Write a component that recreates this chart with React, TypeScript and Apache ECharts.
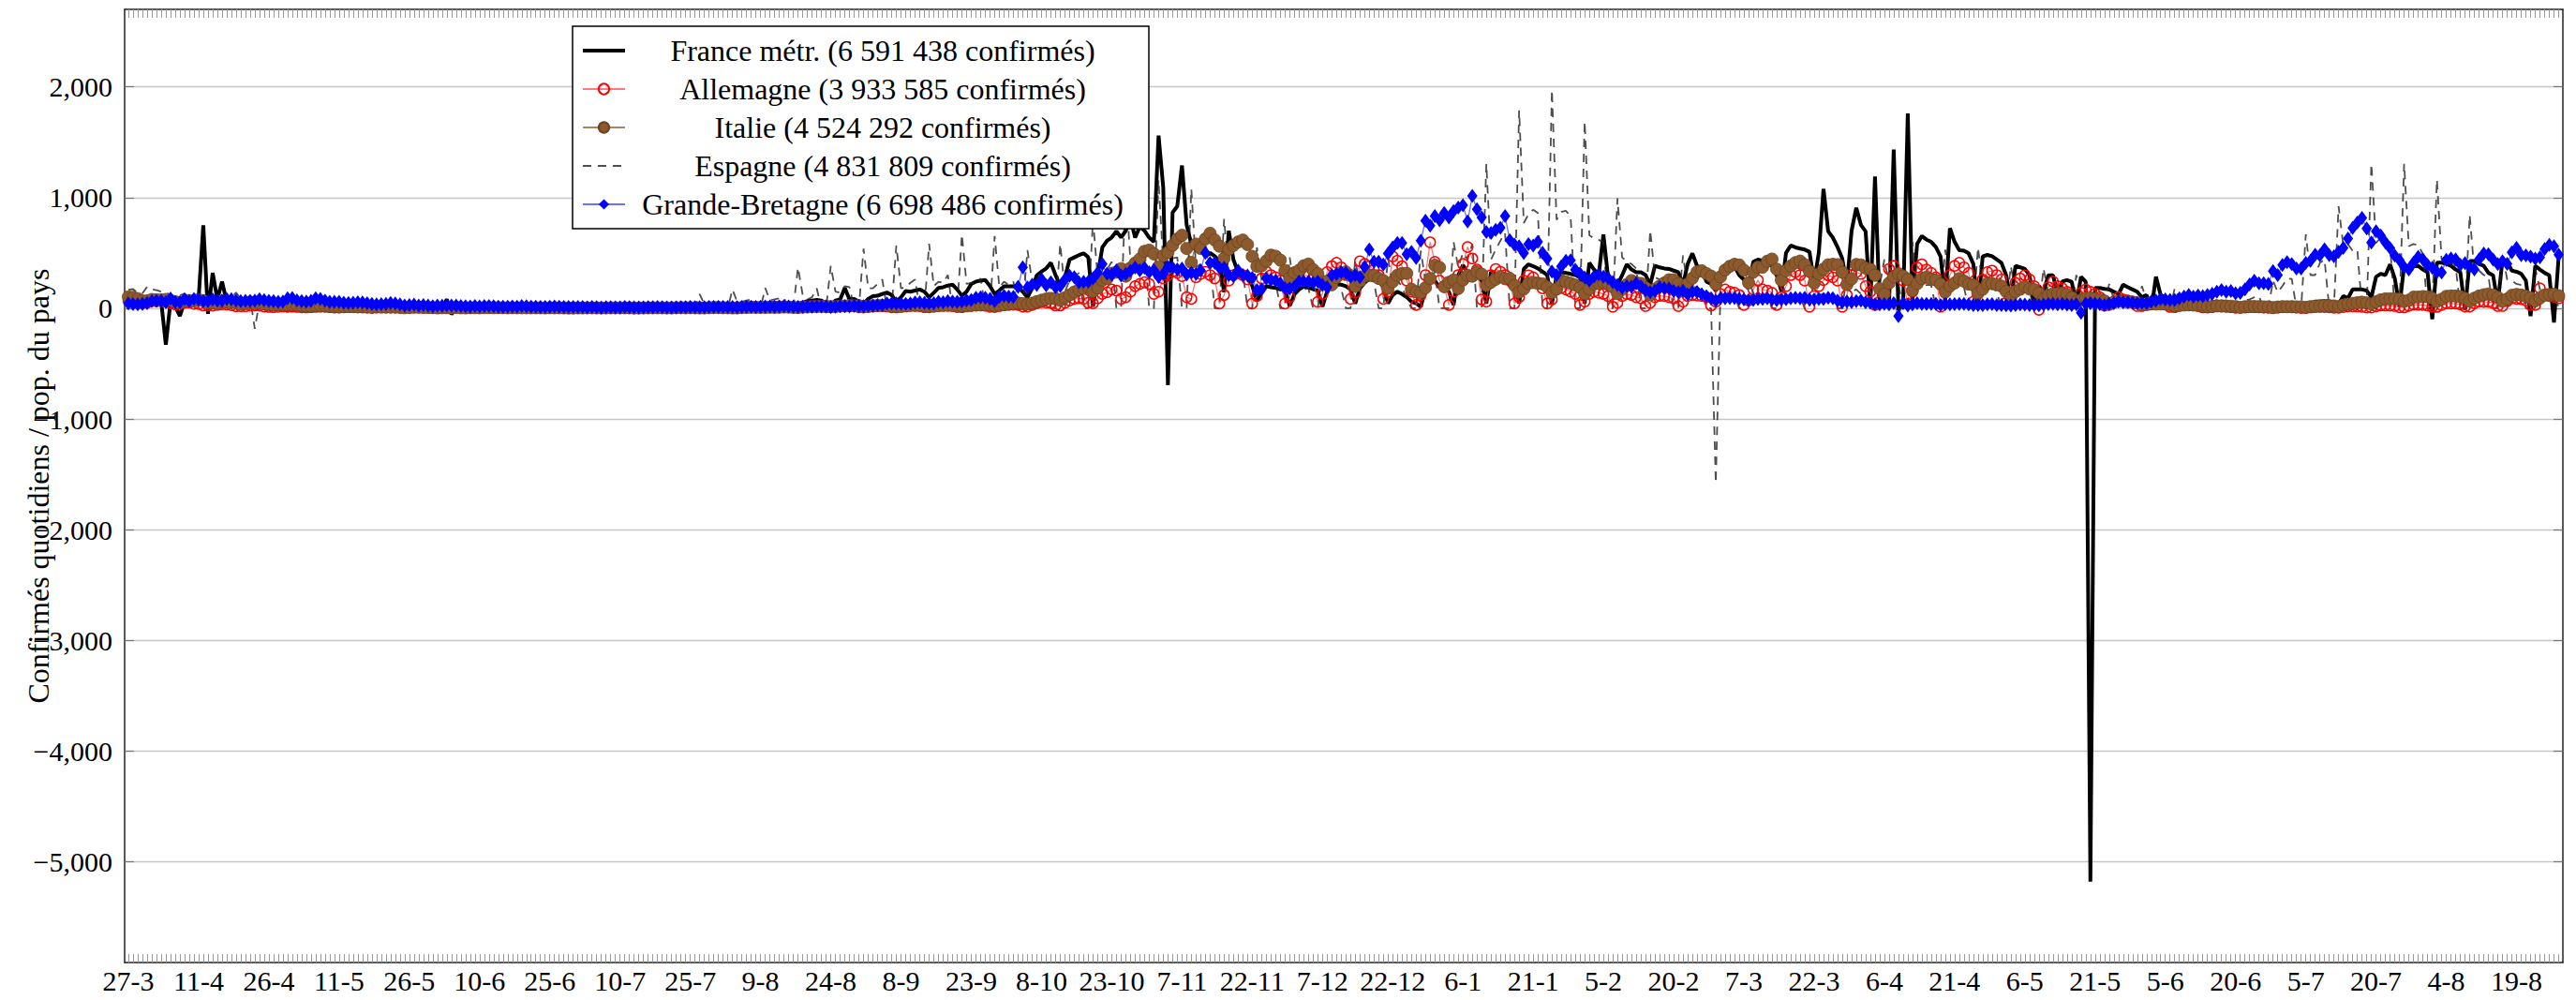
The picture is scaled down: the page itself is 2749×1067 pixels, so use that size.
import React, { useEffect, useRef } from "react";
import * as echarts from "echarts";

const W = 2749;
const H = 1067;

// x tick positions (day index, day 0 = 27 March 2020) and labels
const xTickDays = [0, 15, 30, 45, 60, 75, 90, 105, 120, 135, 150, 165, 180, 195, 210, 225, 240, 255, 270, 285, 300, 315, 330, 345, 360, 375, 390, 405, 420, 435, 450, 465, 480, 495, 510];
const xTickLabels = ["27-3", "11-4", "26-4", "11-5", "26-5", "10-6", "25-6", "10-7", "25-7", "9-8", "24-8", "8-9", "23-9", "8-10", "23-10", "7-11", "22-11", "7-12", "22-12", "6-1", "21-1", "5-2", "20-2", "7-3", "22-3", "6-4", "21-4", "6-5", "21-5", "5-6", "20-6", "5-7", "20-7", "4-8", "19-8"];
const yTicks = [-5000, -4000, -3000, -2000, -1000, 0, 1000, 2000];

const seriesNames = [
  "France métr. (6 591 438 confirmés)",
  "Allemagne (3 933 585 confirmés)",
  "Italie (4 524 292 confirmés)",
  "Espagne (4 831 809 confirmés)",
  "Grande-Bretagne (6 698 486 confirmés)",
];

// daily confirmed per million, from 27-3-2020 (Fri) to 28-8-2021
const france = [
  60, 55, 40,
  70, 75, 110, 80, 65, -330, 60,
  20, -70, 60, 50, 60, 90, 750,
  -50, 320, 80, 240, 60, 80, 40,
  50, 30, 35, 25, 20, 25, 15,
  20, 15, 20, -28, 18, 15, 12,
  10, 12, 15, 14, 10, 8, 6,
  5, 8, 10, 9, 8, 7, 5,
  4, 6, 8, 7, 6, 5, 4,
  3, 5, 6, 6, 5, 4, 3,
  4, 5, 80, -55, 8, 6, 4,
  3, 6, 8, 7, 7, 5, 4,
  3, 6, 7, 8, 7, 6, 4,
  4, 7, 9, 8, 8, 7, 5,
  4, 8, 10, 9, 10, 8, 6,
  5, 9, 11, 10, 11, 9, 7,
  6, 10, 13, 12, 14, 12, 9,
  8, 14, 17, 16, 18, 15, 10,
  8, 17, 20, 19, 22, 18, 12,
  10, 22, 28, 27, 32, 30, 20,
  12, 30, 40, 40, 45, 48, 30,
  18, 50, 65, 70, 75, 70, 40,
  25, 70, 80, 184, 80, 85, 60,
  40, 85, 110, 113, 130, 142, 120,
  60, 100, 156, 150, 160, 170, 150,
  100, 140, 184, 190, 205, 213, 170,
  113, 150, 220, 241, 250, 255, 200,
  128, 160, 199, 199, 199, 190, 150,
  99, 180, 298, 330, 360, 411, 300,
  200, 280, 440, 460, 480, 496, 460,
  14, 300, 550, 610, 640, 695, 640,
  700, 808, 638, 737, 700, 638, 600,
  1560, 1092, -695, 865, 922, 1290, 752,
  581, 520, 550, 468, 500, 470, 420,
  145, 700, 437, 326, 300, 275, 203,
  68, 142, 200, 190, 184, 170, 170,
  20, 125, 170, 195, 188, 172, 160,
  14, 150, 213, 220, 213, 200, 170,
  43, 180, 230, 270, 260, 240, 200,
  43, 120, 150, 128, 100, 60, 45,
  14, 170, 300, 250, 190, 184, 150,
  30, 298, 390, 320, 300, 290, 250,
  43, 330, 298, 290, 298, 270, 241,
  43, 355, 397, 380, 360, 330, 300,
  43, 298, 326, 320, 310, 300, 280,
  43, 411, 350, 300, 667, 280, 250,
  213, 298, 397, 350, 326, 326, 300,
  213, 383, 370, 360, 355, 340, 326,
  213, 400, 496, 383, 350, 241, 220,
  156, 298, 350, 411, 380, 300, 260,
  184, 420, 440, 430, 400, 383, 300,
  156, 500, 567, 550, 539, 530, 510,
  241, 500, 1078, 695, 638, 553, 450,
  213, 700, 908, 752, 695, 14, 1191,
  20, 20, 30, 1433, -14, 30, 1759,
  71, 582, 652, 620, 600, 553, 468,
  71, 723, 600, 525, 520, 496, 400,
  0, 468, 482, 470, 440, 411, 300,
  71, 383, 370, 355, 300, 14, 200,
  150, 298, 298, 128, 241, 255, 240,
  43, 284, 240, -5180, 184, 184, 175,
  170, 150, 128, 213, 190, 170, 150,
  99, 120, -14, 284, 120, 100, 80,
  30, 70, 80, 75, 70, 60, 50,
  20, 50, 60, 55, 50, 45, 35,
  15, 40, 45, 40, 40, 35, 30,
  12, 35, 40, 38, 35, 30, 30,
  10, 45, 60, 60, 65, 60, 55,
  40, 110, 90, 170, 170, 170, 160,
  99, 284, 312, 300, 397, 270, 14,
  383, 383, 380, 383, 350, 326, -99,
  411, 411, 400, 383, 350, 326, -14,
  426, 426, 400, 383, 320, 298, 43,
  440, 420, 340, 330, 312, 250, -71,
  383, 350, 320, 298, -128, 468,
];

const allemagne = [
  70, 65, 45,
  45, 50, 65, 62, 65, 60, 45,
  35, 38, 50, 52, 40, 38, 25,
  25, 24, 30, 36, 34, 28, 18,
  18, 18, 24, 25, 23, 15, 12,
  10, 13, 16, 17, 14, 12, 9,
  8, 10, 12, 14, 13, 10, 8,
  8, 9, 10, 10, 9, 8, 6,
  5, 6, 8, 7, 7, 6, 5,
  5, 5, 6, 6, 5, 4, 3,
  3, 4, 5, 6, 5, 4, 3,
  3, 4, 5, 5, 5, 4, 2,
  2, 4, 5, 8, 9, 8, 6,
  6, 7, 7, 6, 6, 5, 4,
  3, 5, 5, 6, 5, 4, 3,
  2, 4, 5, 6, 5, 5, 3,
  2, 4, 5, 7, 6, 5, 3,
  3, 5, 7, 9, 10, 9, 5,
  4, 8, 10, 11, 11, 10, 6,
  5, 10, 12, 14, 14, 12, 7,
  6, 14, 15, 17, 18, 16, 8,
  8, 16, 18, 20, 22, 19, 10,
  9, 15, 18, 20, 18, 17, 9,
  7, 14, 15, 18, 19, 16, 9,
  8, 13, 16, 21, 22, 19, 10,
  9, 15, 19, 22, 23, 20, 11,
  10, 18, 22, 26, 27, 24, 13,
  11, 20, 27, 30, 32, 30, 15,
  15, 30, 45, 55, 52, 48, 25,
  25, 50, 70, 85, 90, 85, 50,
  45, 90, 130, 145, 170, 160, 85,
  100, 150, 200, 220, 235, 220, 130,
  150, 270, 300, 330, 320, 290, 100,
  85, 280, 310, 330, 300, 270, 43,
  120, 250, 300, 320, 300, 260, 43,
  110, 270, 330, 300, 280, 250, 43,
  100, 280, 320, 300, 290, 260, 57,
  130, 326, 380, 411, 370, 300, 85,
  140, 425, 400, 380, 350, 300, 85,
  150, 468, 430, 380, 250, 150, 30,
  120, 300, 596, 420, 250, 200, 30,
  150, 300, 400, 553, 450, 350, 80,
  60, 300, 355, 330, 300, 250, 43,
  100, 250, 298, 280, 230, 180, 43,
  80, 170, 185, 170, 150, 130, 30,
  60, 130, 150, 140, 130, 110, 14,
  50, 110, 128, 120, 100, 90, 20,
  50, 100, 113, 110, 100, 90, 20,
  60, 110, 120, 115, 110, 100, 25,
  60, 130, 170, 150, 140, 120, 30,
  70, 170, 255, 170, 160, 140, 30,
  100, 200, 300, 326, 300, 250, 14,
  110, 200, 255, 298, 280, 250, 14,
  120, 300, 326, 310, 200, 150, 30,
  60, 150, 355, 383, 300, 250, 40,
  150, 368, 397, 350, 320, 280, 14,
  160, 300, 383, 411, 370, 320, 60,
  130, 260, 326, 340, 300, 260, 50,
  110, 230, 270, 298, 260, 200, -14,
  80, 190, 241, 200, 180, 150, 40,
  60, 140, 170, 150, 130, 100, 25,
  30, 60, 100, 80, 70, 60, 20,
  20, 40, 55, 50, 45, 35, 12,
  10, 25, 35, 30, 28, 20, 8,
  6, 12, 18, 15, 13, 10, 5,
  4, 8, 12, 10, 9, 7, 4,
  3, 7, 11, 10, 9, 7, 3,
  3, 8, 12, 12, 11, 9, 4,
  4, 11, 17, 17, 16, 13, 6,
  6, 17, 25, 25, 24, 20, 9,
  8, 22, 33, 31, 30, 24, 12,
  12, 30, 45, 43, 42, 35, 15,
  15, 45, 60, 58, 58, 47, 20,
  20, 65, 90, 85, 83, 70, 30,
  30, 180, 120, 110, 105, 90,
];

const italie = [
  103, 99, 87,
  67, 67, 79, 77, 76, 80, 71,
  60, 50, 63, 70, 65, 78, 68,
  52, 49, 44, 63, 58, 58, 50,
  37, 45, 56, 44, 50, 39, 38,
  29, 35, 35, 31, 33, 31, 23,
  20, 18, 24, 23, 22, 18, 13,
  12, 16, 16, 15, 14, 14, 11,
  8, 13, 11, 11, 11, 11, 9,
  5, 7, 10, 9, 8, 7, 6,
  3, 5, 5, 3, 9, 4, 3,
  5, 5, 4, 6, 6, 5, 6,
  5, 4, 5, 4, 4, 4, 4,
  4, 4, 3, 5, 4, 4, 3,
  2, 2, 3, 3, 4, 4, 3,
  3, 3, 4, 4, 4, 4, 4,
  2, 2, 3, 4, 4, 4, 4,
  3, 3, 5, 5, 4, 5, 4,
  3, 3, 5, 6, 6, 5, 4,
  3, 3, 6, 7, 9, 8, 8,
  8, 9, 8, 9, 11, 10, 8,
  7, 10, 12, 15, 16, 17, 18,
  15, 16, 20, 21, 24, 23, 24,
  16, 16, 22, 25, 26, 27, 23,
  18, 17, 24, 27, 27, 27, 25,
  17, 20, 25, 28, 27, 27, 26,
  19, 21, 27, 29, 30, 31, 29,
  24, 28, 33, 41, 43, 47, 42,
  38, 46, 60, 73, 83, 89, 88,
  73, 95, 121, 147, 168, 180, 190,
  152, 182, 253, 268, 316, 326, 358,
  290, 364, 408, 445, 514, 525, 491,
  375, 475, 505, 568, 626, 659, 540,
  414, 580, 540, 627, 677, 617, 561,
  452, 533, 568, 599, 616, 576, 469,
  379, 384, 427, 480, 470, 435, 341,
  272, 321, 343, 384, 399, 349, 313,
  227, 245, 212, 280, 310, 329, 296,
  199, 245, 291, 301, 296, 270, 250,
  180, 240, 298, 315, 315, 172, 147,
  142, 185, 268, 389, 368, 195, 235,
  255, 179, 255, 298, 290, 329, 308,
  207, 235, 262, 285, 267, 270, 207,
  146, 174, 225, 233, 225, 220, 192,
  142, 175, 252, 238, 225, 210, 187,
  131, 175, 218, 227, 235, 222, 192,
  132, 175, 214, 250, 230, 224, 184,
  122, 172, 200, 228, 257, 257, 224,
  159, 220, 272, 329, 339, 313, 290,
  217, 283, 346, 379, 397, 391, 344,
  230, 326, 371, 371, 425, 444, 353,
  253, 338, 382, 412, 426, 394, 334,
  228, 311, 353, 392, 397, 394, 325,
  214, 265, 396, 391, 363, 353, 298,
  177, 129, 227, 285, 313, 291, 260,
  162, 222, 268, 280, 263, 255, 218,
  147, 200, 228, 268, 245, 218, 210,
  139, 172, 222, 222, 214, 200, 151,
  98, 151, 172, 195, 174, 169, 137,
  84, 114, 131, 134, 134, 126, 96,
  58, 75, 91, 94, 86, 78, 66,
  41, 53, 65, 61, 56, 55, 48,
  30, 33, 40, 38, 39, 38, 33,
  22, 25, 29, 31, 29, 28, 24,
  15, 16, 21, 22, 20, 19, 15,
  8, 14, 16, 16, 15, 13, 13,
  6, 11, 15, 14, 15, 13, 13,
  8, 15, 18, 22, 24, 24, 21,
  15, 30, 38, 44, 50, 55, 49,
  38, 58, 76, 85, 85, 86, 83,
  63, 73, 100, 101, 106, 104, 91,
  62, 81, 108, 111, 111, 105, 90,
  64, 91, 111, 122, 129, 120, 99,
  63, 83, 117, 125, 119, 109, 95,
  67, 92, 119, 124, 128, 113,
];

const espagne = [
  167, 173, 138,
  135, 194, 171, 163, 150, 146, 116,
  91, 116, 131, 106, 97, 101, 80,
  74, 63, 108, 110, 95, 89, 142,
  84, 89, 97, -185, 60, 40, 35,
  30, 25, 28, 30, 25, 22, 20,
  18, 25, 20, 15, 18, 20, 15,
  12, 10, 12, 11, 10, 9, 8,
  12, 10, 8, 7, 6, 6, 7,
  8, 6, 5, 6, 5, 6, 5,
  5, 4, 6, 7, 6, 5, 3,
  5, 7, 6, 7, 8, 5, 3,
  6, 7, 8, 9, 7, 4, 3,
  8, 7, 8, 9, 10, 4, 3,
  10, 8, 9, 10, 12, 0, 0,
  20, 8, 10, 12, 14, 0, 0,
  30, 12, 13, 15, 20, 0, 0,
  50, 25, 20, 40, 45, 0, 0,
  128, 35, 40, 40, 50, 0, 0,
  170, 60, 60, 70, 80, 0, 0,
  184, 70, 80, 90, 95, 0, 0,
  369, 120, 80, 100, 180, 0, 0,
  383, 150, 140, 200, 190, 0, 0,
  539, 180, 180, 220, 260, 0, 0,
  567, 180, 190, 230, 260, 0, 0,
  582, 200, 240, 230, 300, 0, 0,
  667, 220, 230, 220, 270, 0, 0,
  652, 190, 240, 210, 240, 0, 0,
  525, 240, 250, 270, 260, 0, 0,
  582, 150, 250, 280, 320, 0, 0,
  800, 280, 340, 350, 420, 0, 0,
  1100, 420, 400, 530, 540, 0, 0,
  1160, 400, 420, 450, 460, 0, 0,
  1078, 370, 400, 420, 400, 0, 0,
  808, 290, 340, 330, 330, 0, 0,
  550, 260, 280, 250, 240, 0, 0,
  460, 190, 220, 170, 180, 0, 0,
  300, 140, 150, 220, 180, 0, 0,
  440, 200, 230, 250, 240, 0, 0,
  450, 220, 260, 190, 90, 0, 0,
  520, 240, 270, 330, 0, 0, 0,
  600, 370, 500, 440, 580, 0, 0,
  1305, 440, 530, 610, 680, 0, 0,
  1787, 770, 850, 890, 860, 0, 0,
  1972, 800, 870, 880, 830, 0, 0,
  1688, 660, 630, 620, 590, 0, 0,
  993, 460, 420, 400, 360, 0, 0,
  705, 280, 260, 250, 230, 0, 0,
  476, 200, 190, 190, 160, 0, 0,
  -1580, 150, 150, 130, 110, 0, 0,
  250, 140, 130, 120, 100, 0, 0,
  260, 100, 110, 110, 100, 0, 0,
  280, 120, 130, 140, 130, 0, 0,
  300, 150, 170, 130, 0, 0, 0,
  200, 440, 220, 200, 220, 0, 0,
  600, 180, 200, 210, 210, 0, 0,
  530, 170, 210, 220, 190, 0, 0,
  550, 190, 210, 190, 150, 0, 0,
  380, 160, 200, 190, 150, 0, 0,
  360, 120, 160, 150, 140, 0, 0,
  300, 130, 110, 110, 110, 0, 0,
  220, 80, 110, 100, 95, 0, 0,
  200, 70, 100, 110, 80, 0, 0,
  180, 80, 80, 80, 75, 0, 0,
  150, 60, 75, 70, 70, 0, 0,
  150, 70, 80, 100, 110, 0, 0,
  250, 145, 200, 270, 265, 0, 0,
  667, 300, 300, 410, 440, 0, 0,
  922, 570, 580, 520, 530, 0, 0,
  1305, 590, 640, 620, 560, 0, 0,
  1305, 560, 580, 570, 490, 0, 0,
  1163, 440, 470, 420, 380, 0, 0,
  843, 330, 340, 300, 290, 0, 0,
  485, 260, 250, 220, 210, 0, 0,
  360, 170, 180, 160, 150, 0,
];

const grandeBretagne = [
  43, 37, 36,
  39, 45, 64, 67, 67, 55, 88,
  57, 54, 82, 64, 85, 79, 64,
  64, 79, 69, 69, 84, 82, 70,
  64, 67, 67, 69, 81, 73, 67,
  64, 58, 61, 90, 93, 72, 64,
  60, 66, 91, 84, 69, 58, 58,
  58, 51, 48, 51, 54, 52, 46,
  40, 36, 37, 39, 49, 43, 36,
  24, 30, 34, 25, 30, 25, 19,
  24, 23, 27, 24, 24, 20, 19,
  16, 21, 17, 20, 20, 19, 15,
  15, 15, 16, 15, 20, 19, 14,
  14, 13, 13, 14, 16, 14, 13,
  11, 11, 12, 11, 8, 12, 9,
  5, 9, 9, 8, 8, 12, 9,
  8, 8, 8, 10, 10, 12, 10,
  7, 7, 8, 10, 10, 11, 10,
  10, 9, 11, 12, 13, 11, 11,
  11, 10, 13, 14, 14, 12, 15,
  16, 17, 15, 17, 19, 16, 15,
  11, 15, 17, 14, 17, 16, 17,
  13, 14, 18, 18, 16, 22, 20,
  19, 22, 25, 30, 30, 44, 44,
  44, 42, 40, 44, 53, 54, 48,
  45, 46, 59, 55, 64, 60, 58,
  63, 72, 75, 94, 98, 94, 85,
  64, 104, 112, 106, 103, 193, 369,
  188, 214, 212, 261, 207, 235, 190,
  200, 260, 294, 280, 235, 238, 240,
  270, 320, 399, 312, 305, 343, 296,
  310, 338, 368, 343, 365, 325, 345,
  282, 310, 373, 365, 350, 360, 305,
  320, 311, 342, 500, 410, 410, 365,
  365, 300, 290, 340, 300, 295, 275,
  165, 170, 270, 255, 250, 225, 180,
  180, 195, 240, 240, 240, 230, 240,
  210, 190, 300, 310, 325, 320, 285,
  300, 280, 375, 530, 420, 420, 395,
  495, 549, 590, 590, 488, 510, 455,
  610, 791, 746, 834, 795, 861, 820,
  878, 909, 930, 785, 1015, 894, 820,
  690, 680, 709, 727, 833, 616, 576,
  560, 498, 580, 566, 601, 500, 448,
  331, 300, 378, 428, 434, 348, 315,
  278, 251, 287, 307, 285, 273, 236,
  210, 185, 201, 194, 225, 199, 163,
  146, 158, 190, 181, 179, 155, 146,
  158, 127, 148, 148, 127, 110, 90,
  70, 90, 90, 93, 93, 87, 80,
  73, 75, 85, 85, 90, 80, 73,
  80, 82, 90, 94, 90, 95, 80,
  80, 85, 85, 95, 90, 70, 55,
  60, 57, 65, 70, 55, 50, 35,
  36, 40, 35, 45, -70, 45, 25,
  35, 45, 40, 40, 40, 40, 28,
  38, 35, 37, 40, 40, 35, 30,
  30, 30, 35, 38, 30, 30, 26,
  25, 30, 36, 33, 30, 28, 27,
  33, 37, 40, 35, 40, 33, 30,
  35, -40, 42, 45, 40, 38, 30,
  40, 45, 60, 55, 55, 50, 45,
  50, 45, 60, 70, 85, 80, 75,
  75, 90, 105, 120, 105, 115, 110,
  120, 130, 150, 165, 150, 155, 135,
  140, 170, 215, 250, 225, 225, 220,
  335, 300, 390, 416, 400, 360, 360,
  410, 430, 485, 478, 533, 480, 470,
  510, 545, 630, 725, 775, 816, 720,
  595, 696, 658, 595, 543, 475, 436,
  372, 351, 413, 464, 442, 390, 366,
  327, 324, 437, 451, 442, 394, 407,
  376, 351, 442, 494, 488, 440, 400,
  424, 401, 506, 546, 479, 478, 467,
  449, 460, 534, 572, 561, 484,
];

const FONT = "Liberation Serif";

function yFmt(v: number): string {
  if (v === 0) return "0";
  const s = Math.abs(v).toLocaleString("en-US");
  return (v < 0 ? "\u2212" : "") + s;
}

function xFmt(v: number): string {
  const k = xTickDays.indexOf(Math.round(v));
  return k >= 0 ? xTickLabels[k] : "";
}

export default function App() {
  const ref = useRef<HTMLDivElement>(null);

  useEffect(() => {
    if (!ref.current) return;
    const chart = echarts.init(ref.current, undefined, { renderer: "svg" });
    const n = france.length;
    const days = Array.from({ length: n }, (_, i) => i);
    const pts = (arr: number[]) => arr.map((v, i) => [i, v]);
    const xMin = -0.8;
    const xMax = n - 1 + 0.9;
    const yMin = -5910;
    const yMax = 2700;

    const frame = { show: true, onZero: false, lineStyle: { color: "#222", width: 1.5 } };
    const dayTicks = { show: true, inside: true, length: 9, customValues: days, lineStyle: { color: "#9a9a9a", width: 1 } };
    const yMajorTicks = { show: true, inside: true, length: 10, customValues: yTicks, lineStyle: { color: "#777", width: 1.2 } };
    const hidden = { color: "rgba(0,0,0,0)", borderColor: "rgba(0,0,0,0)", borderWidth: 0 };

    const option: any = {
      animation: false,
      backgroundColor: "#ffffff",
      textStyle: { fontFamily: FONT },
      grid: { left: 133, right: 14, top: 10, bottom: 40, containLabel: false },
      xAxis: [
        {
          type: "value", min: xMin, max: xMax, position: "bottom",
          axisLine: frame, axisTick: dayTicks,
          axisLabel: { customValues: xTickDays, formatter: xFmt, fontSize: 30, color: "#000", margin: 4, fontFamily: FONT },
          splitLine: { show: false },
        },
        {
          type: "value", min: xMin, max: xMax, position: "top",
          axisLine: frame, axisTick: dayTicks,
          axisLabel: { show: false }, splitLine: { show: false },
        },
      ],
      yAxis: [
        {
          type: "value", min: yMin, max: yMax, position: "left",
          axisLine: frame, axisTick: yMajorTicks,
          axisLabel: { customValues: yTicks, formatter: yFmt, fontSize: 30, color: "#000", margin: 13, fontFamily: FONT },
          splitLine: { show: true, lineStyle: { color: "#c6c6c6", width: 1.3 } },
          name: "Confirmés quotidiens / pop. du pays",
          nameLocation: "middle", nameRotate: 90, nameGap: 76,
          nameMoveOverlap: false,
          nameTextStyle: { fontSize: 32, color: "#000", fontFamily: FONT },
        },
        {
          type: "value", min: yMin, max: yMax, position: "right",
          axisLine: frame, axisTick: yMajorTicks,
          axisLabel: { show: false }, splitLine: { show: false },
        },
      ],
      legend: {
        orient: "vertical", left: 611, top: 28,
        backgroundColor: "#ffffff", borderColor: "#000", borderWidth: 1.5, borderRadius: 0,
        padding: [8, 14, 8, 9],
        itemWidth: 45, itemHeight: 14, itemGap: 5,
        selectedMode: false,
        textStyle: {
          fontFamily: FONT, fontSize: 32, color: "#000", lineHeight: 36,
          rich: { c: { width: 540, align: "center", fontFamily: FONT, fontSize: 32, lineHeight: 36, color: "#000" } },
        },
        formatter: (name: string) => `{c|${name}}`,
        data: [
          { name: seriesNames[0], lineStyle: { width: 4, color: "#000" }, itemStyle: hidden },
          { name: seriesNames[1] },
          { name: seriesNames[2] },
          { name: seriesNames[3], lineStyle: { width: 1.8, type: [9, 7], color: "#222" }, itemStyle: hidden },
          { name: seriesNames[4] },
        ],
      },
      series: [
        {
          name: seriesNames[0], type: "line", data: pts(france),
          symbol: "none", lineStyle: { color: "#000", width: 4 }, itemStyle: { color: "#000" },
        },
        {
          name: seriesNames[1], type: "line", data: pts(allemagne),
          symbol: "circle", symbolSize: 11, showAllSymbol: true,
          itemStyle: { color: "rgba(255,255,255,0)", borderColor: "#ff0000", borderWidth: 1.5 },
          lineStyle: { color: "#ff4040", width: 1.3, opacity: 0.7 },
        },
        {
          name: seriesNames[2], type: "line", data: pts(italie),
          symbol: "circle", symbolSize: 13, showAllSymbol: true,
          itemStyle: { color: "#8c5a2c", borderColor: "#6a4220", borderWidth: 0.8 },
          lineStyle: { color: "#a88462", width: 1.5 },
        },
        {
          name: seriesNames[3], type: "line", data: pts(espagne),
          symbol: "none",
          lineStyle: { color: "#222", width: 1.8, type: [9, 7], opacity: 0.8 },
          itemStyle: { color: "#222" },
        },
        {
          name: seriesNames[4], type: "line", data: pts(grandeBretagne),
          symbol: "diamond", symbolSize: [11, 15], showAllSymbol: true,
          itemStyle: { color: "#0000ff" },
          lineStyle: { color: "#3030ff", width: 1.3, opacity: 0.7 },
        },
      ],
    };
    chart.setOption(option);
    return () => chart.dispose();
  }, []);

  return (
    <div
      ref={ref}
      style={{ position: "fixed", left: 0, top: 0, width: W, height: H, background: "#fff" }}
    />
  );
}
